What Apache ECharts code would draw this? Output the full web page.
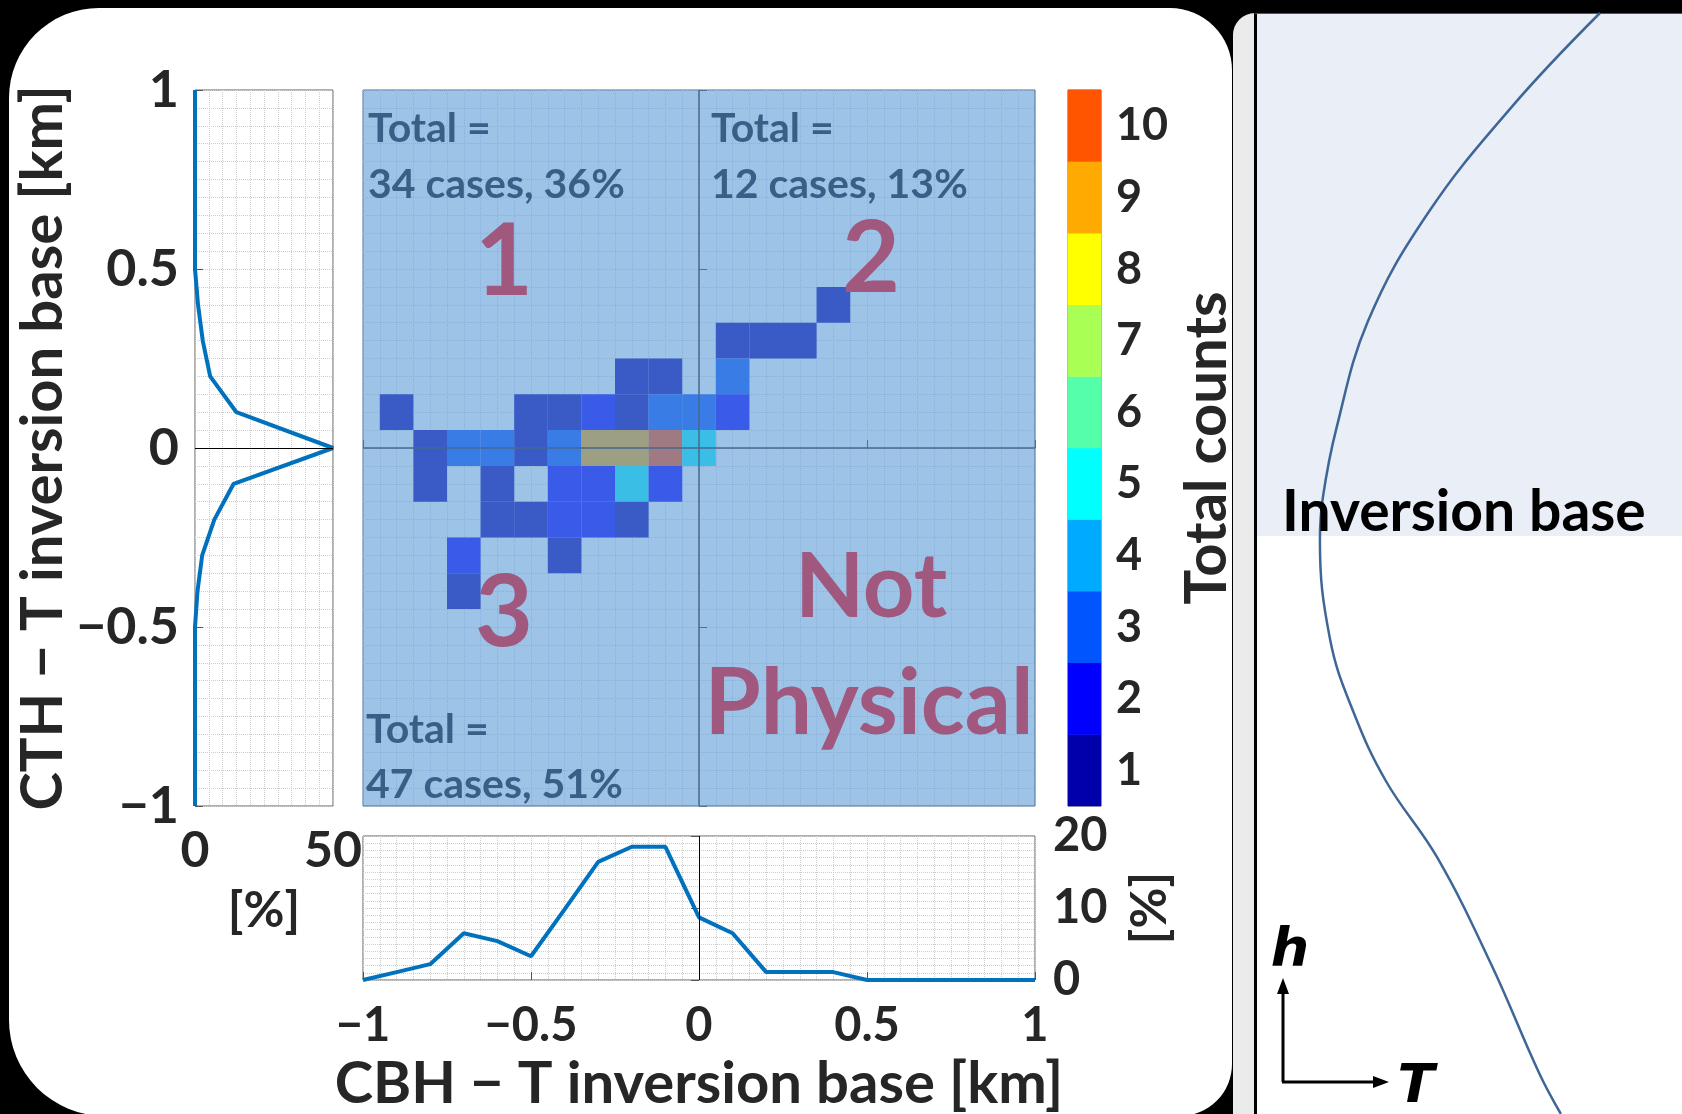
<!DOCTYPE html>
<html>
<head>
<meta charset="utf-8">
<script src="https://cdn.jsdelivr.net/npm/echarts@6/dist/echarts.min.js"></script>
<style>
html,body{margin:0;padding:0;background:#000;}
#c{width:1682px;height:1114px;}
</style>
</head>
<body>
<div id="c"></div>
<script>
// ---------------- DATA ----------------
const binWidth = 0.1;
// 2-D histogram cells (cell centre CBH diff, cell centre CTH diff, count)
const cellX = [0.4, 0.1, 0.2, 0.3, -0.2, -0.1, 0.1,
  -0.9, -0.5, -0.4, -0.3, -0.2, -0.1, 0.0, 0.1,
  -0.8, -0.7, -0.6, -0.5, -0.4, -0.3, -0.2, -0.1, 0.0,
  -0.8, -0.6, -0.4, -0.3, -0.2, -0.1,
  -0.6, -0.5, -0.4, -0.3, -0.2,
  -0.7, -0.4,
  -0.7];
const cellY = [0.4, 0.3, 0.3, 0.3, 0.2, 0.2, 0.2,
  0.1, 0.1, 0.1, 0.1, 0.1, 0.1, 0.1, 0.1,
  0, 0, 0, 0, 0, 0, 0, 0, 0,
  -0.1, -0.1, -0.1, -0.1, -0.1, -0.1,
  -0.2, -0.2, -0.2, -0.2, -0.2,
  -0.3, -0.3,
  -0.4];
const cellCount = [1, 1, 1, 1, 1, 1, 3,
  1, 1, 1, 2, 1, 3, 3, 2,
  1, 3, 3, 1, 3, 9, 9, 12, 5,
  1, 1, 2, 2, 5, 2,
  1, 1, 2, 2, 1,
  2, 1,
  1];

// Side histogram: CTH - T inversion base [km] vs [%]
const cthLevels = [1.0, 0.9, 0.8, 0.7, 0.6, 0.5, 0.4, 0.3, 0.2, 0.1, 0.0, -0.1, -0.2, -0.3, -0.4, -0.5, -0.6, -0.7, -0.8, -0.9, -1.0];
const cthPercent = [0, 0, 0, 0, 0, 0, 1.1, 2.8, 5.5, 15, 50, 14, 7, 2.6, 0.9, 0, 0, 0, 0, 0, 0];

// Bottom histogram: CBH - T inversion base [km] vs [%]
const cbhLevels = [-1.0, -0.9, -0.8, -0.7, -0.6, -0.5, -0.4, -0.3, -0.2, -0.1, 0.0, 0.1, 0.2, 0.3, 0.4, 0.5, 0.6, 0.7, 0.8, 0.9, 1.0];
const cbhPercent = [0, 1.1, 2.2, 6.5, 5.4, 3.3, 9.8, 16.4, 18.5, 18.5, 8.7, 6.5, 1.1, 1.1, 1.1, 0, 0, 0, 0, 0, 0];

// Colour bar levels
const colorLevels = [1, 2, 3, 4, 5, 6, 7, 8, 9, 10];
const colorLabels = ['1', '2', '3', '4', '5', '6', '7', '8', '9', '10'];

// Schematic temperature profile (arbitrary units)
const profileT = [80.7, 60.0, 40.0, 26.1, 18.7, 15.5, 14.8, 17.2, 22.6, 30.4, 42.4, 55.1, 66.4, 71.5];
const profileH = [100, 91.5, 81.7, 72.0, 62.3, 56.0, 52.1, 43.1, 36.6, 30.2, 23.3, 13.6, 3.7, 0];
const inversionBaseH = 52.5;

// Annotation texts
const quadrantTotals = ['Total =', '34 cases, 36%', '12 cases, 13%', '47 cases, 51%'];
const regionLabels = ['1', '2', '3', 'Not', 'Physical'];

// ---------------- STYLE ----------------
const jetColors = ['#0000aa', '#0000ff', '#0055ff', '#00aaff', '#00ffff', '#55ffaa', '#aaff55', '#ffff00', '#ffaa00', '#ff5500'];
// same colours seen through the translucent blue box
const veiledColors = ['#3a5bc6', '#3a5be8', '#3a7ce6', '#3a9de6', '#3abee6', '#5bbec8', '#7cbea7', '#9dbe86', '#9d9f82', '#9f7a82'];
const TXT = '#262626';
const FONT = 'Lato';
const minusFmt = v => (v < 0 ? '\u2212' + String(+(-v).toFixed(2)) : String(+v.toFixed(2)));

const chart = echarts.init(document.getElementById('c'), null, {renderer: 'canvas'});

const grayDot = {color: '#cdcdcd', type: 'dotted', width: 1};
const blueDot = {color: '#8bb1db', type: 'dotted', width: 1};

function cellRender(params, api) {
  const c = api.coord([api.value(0), api.value(1)]);
  const s = api.size([binWidth, binWidth]);
  return {
    type: 'rect',
    shape: {x: c[0] - s[0] / 2, y: c[1] - s[1] / 2, width: s[0], height: s[1]},
    style: {fill: api.visual('color')}
  };
}

const option = {
  backgroundColor: '#000',
  animation: false,
  textStyle: {fontFamily: FONT},
  grid: [
    {left: 195, top: 90, width: 138, height: 716, show: true, backgroundColor: '#fff', borderColor: '#606060', borderWidth: 1},
    {left: 363, top: 90, width: 672, height: 716, show: true, backgroundColor: '#9dc3e6', borderColor: '#4f7196', borderWidth: 1},
    {left: 363, top: 836, width: 672, height: 148, show: true, backgroundColor: '#fff', borderColor: '#606060', borderWidth: 1},
    {left: 1068, top: 90, width: 33, height: 716, show: true, borderColor: '#6a6a6a', borderWidth: 1},
    {left: 1257, top: 13, width: 425, height: 1101}
  ],
  xAxis: [
    {gridIndex: 0, type: 'value', min: 0, max: 50, interval: 50,
      axisLine: {show: false}, axisTick: {show: false},
      axisLabel: {fontSize: 50, fontWeight: 'bold', color: TXT, margin: 20, showMinLabel: true, showMaxLabel: true},
      splitLine: {show: true, lineStyle: grayDot}, minorTick: {show: false, splitNumber: 10},
      minorSplitLine: {show: true, lineStyle: grayDot},
      name: '[%]', nameLocation: 'middle', nameGap: 80,
      nameTextStyle: {fontSize: 50, fontWeight: 'bold', color: TXT}},
    {gridIndex: 1, type: 'value', min: -1, max: 1, interval: 0.5,
      axisLine: {show: false}, axisLabel: {show: false},
      axisTick: {show: true, inside: true, length: 8, lineStyle: {color: '#4f7196'}},
      splitLine: {show: true, lineStyle: blueDot}, minorTick: {show: false, splitNumber: 10},
      minorSplitLine: {show: true, lineStyle: blueDot}},
    {gridIndex: 2, type: 'value', min: -1, max: 1, interval: 0.5,
      axisLine: {show: false},
      axisTick: {show: true, inside: true, length: 8, lineStyle: {color: '#555'}},
      axisLabel: {fontSize: 47, fontWeight: 'bold', color: TXT, margin: 22, formatter: minusFmt, showMinLabel: true, showMaxLabel: true},
      splitLine: {show: true, lineStyle: grayDot}, minorTick: {show: false, splitNumber: 10},
      minorSplitLine: {show: true, lineStyle: grayDot},
      name: 'CBH \u2212 T inversion base [km]', nameLocation: 'middle', nameGap: 75,
      nameTextStyle: {fontSize: 58, fontWeight: 'bold', color: TXT}},
    {gridIndex: 3, type: 'category', data: [''], show: false},
    {gridIndex: 4, type: 'value', min: 0, max: 100, show: false}
  ],
  yAxis: [
    {gridIndex: 0, type: 'value', min: -1, max: 1, interval: 0.5,
      axisLine: {show: false},
      axisTick: {show: true, inside: true, length: 8, lineStyle: {color: '#555'}},
      axisLabel: {fontSize: 52, fontWeight: 'bold', color: TXT, margin: 16, formatter: minusFmt, showMinLabel: true, showMaxLabel: true},
      splitLine: {show: true, lineStyle: grayDot}, minorTick: {show: false, splitNumber: 10},
      minorSplitLine: {show: true, lineStyle: grayDot},
      name: 'CTH \u2212 T inversion base [km]', nameLocation: 'middle', nameRotate: 90, nameGap: 123,
      nameTextStyle: {fontSize: 58, fontWeight: 'bold', color: TXT}},
    {gridIndex: 1, type: 'value', min: -1, max: 1, interval: 0.5,
      axisLine: {show: false}, axisLabel: {show: false},
      axisTick: {show: true, inside: true, length: 8, lineStyle: {color: '#4f7196'}},
      splitLine: {show: true, lineStyle: blueDot}, minorTick: {show: false, splitNumber: 10},
      minorSplitLine: {show: true, lineStyle: blueDot}},
    {gridIndex: 2, type: 'value', min: 0, max: 20, interval: 10, position: 'right',
      axisLine: {show: false},
      axisTick: {show: true, inside: true, length: 8, lineStyle: {color: '#555'}},
      axisLabel: {fontSize: 47, fontWeight: 'bold', color: TXT, margin: 18, showMinLabel: true, showMaxLabel: true},
      splitLine: {show: true, lineStyle: grayDot}, minorTick: {show: false, splitNumber: 10},
      minorSplitLine: {show: true, lineStyle: grayDot},
      name: '[%]', nameLocation: 'middle', nameRotate: 90, nameGap: 90,
      nameTextStyle: {fontSize: 50, fontWeight: 'bold', color: TXT}},
    {gridIndex: 3, type: 'category', data: colorLabels, position: 'right',
      axisLine: {show: false},
      axisTick: {show: true, inside: true, alignWithLabel: true, length: 7, lineStyle: {color: '#222', width: 1.5}},
      axisLabel: {fontSize: 45, fontWeight: 'bold', color: TXT, margin: 15},
      splitLine: {show: false},
      name: 'Total counts', nameLocation: 'middle', nameRotate: 90, nameGap: 77,
      nameTextStyle: {fontSize: 58, fontWeight: 'bold', color: TXT}},
    {gridIndex: 4, type: 'value', min: 0, max: 100, show: false}
  ],
  visualMap: [
    {type: 'piecewise', show: false, seriesIndex: 1, dimension: 2,
      pieces: colorLevels.map((v, i) => (i === colorLevels.length - 1
        ? {gte: v - 0.5, color: veiledColors[i]}
        : {gte: v - 0.5, lt: v + 0.5, color: veiledColors[i]}))},
    {type: 'piecewise', show: false, seriesIndex: 3, dimension: 2,
      pieces: colorLevels.map((v, i) => ({gte: v - 0.5, lt: v + 0.5, color: jetColors[i]}))}
  ],
  series: [
    {type: 'line', xAxisIndex: 0, yAxisIndex: 0, z: 4, clip: false,
      data: cthLevels.map((y, i) => [cthPercent[i], y]),
      symbol: 'none', lineStyle: {color: '#0072BD', width: 4},
      markLine: {silent: true, symbol: 'none', label: {show: false},
        lineStyle: {color: '#000', width: 1, type: 'solid'}, data: [{yAxis: 0}]}},
    {type: 'custom', xAxisIndex: 1, yAxisIndex: 1, z: 3,
      data: cellX.map((x, i) => [x, cellY[i], cellCount[i]]),
      encode: {x: 0, y: 1},
      renderItem: cellRender,
      markLine: {silent: true, symbol: 'none', label: {show: false},
        lineStyle: {color: '#46698f', width: 1.5, type: 'solid'}, data: [{xAxis: 0}, {yAxis: 0}]}},
    {type: 'line', xAxisIndex: 2, yAxisIndex: 2, z: 4, clip: false,
      data: cbhLevels.map((x, i) => [x, cbhPercent[i]]),
      symbol: 'none', lineStyle: {color: '#0072BD', width: 4},
      markLine: {silent: true, symbol: 'none', label: {show: false},
        lineStyle: {color: '#000', width: 1, type: 'solid'}, data: [{xAxis: 0}]}},
    {type: 'heatmap', xAxisIndex: 3, yAxisIndex: 3,
      data: colorLevels.map((v, i) => [0, i, v])},
    {type: 'line', xAxisIndex: 4, yAxisIndex: 4, z: 3,
      data: profileT.map((t, i) => [t, profileH[i]]),
      smooth: 0.4, symbol: 'none', lineStyle: {color: '#3e6696', width: 2.5},
      markArea: {silent: true, itemStyle: {color: '#e9eef7'},
        data: [[{yAxis: inversionBaseH}, {yAxis: 100}]]}}
  ],
  graphic: {elements: [
    {type: 'rect', z: -10, shape: {x: 9, y: 8, width: 1223, height: 1108, r: [90, 62, 52, 96]}, style: {fill: '#fff'}},
    {type: 'rect', z: -10, shape: {x: 1233, y: 13, width: 449, height: 1101, r: [30, 30, 0, 0]}, style: {fill: '#fff'}},
    {type: 'rect', z: 40, shape: {x: 1233, y: 13, width: 22, height: 1101, r: [28, 0, 0, 0]}, style: {fill: '#ebebeb'}},
    {type: 'line', z: 41, shape: {x1: 1255.5, y1: 13, x2: 1255.5, y2: 1114}, style: {stroke: '#000', lineWidth: 3}},
    {type: 'line', z: 41, shape: {x1: 1255, y1: 13.5, x2: 1682, y2: 13.5}, style: {stroke: '#555', lineWidth: 1}},
    // annotations on the 2-D histogram
    {type: 'text', z: 50, x: 368, y: 129, style: {text: quadrantTotals[0], font: 'bold 41px Lato', fill: '#3a5f87', align: 'left', verticalAlign: 'middle'}},
    {type: 'text', z: 50, x: 368, y: 185, style: {text: quadrantTotals[1], font: 'bold 41px Lato', fill: '#3a5f87', align: 'left', verticalAlign: 'middle'}},
    {type: 'text', z: 50, x: 711, y: 129, style: {text: quadrantTotals[0], font: 'bold 41px Lato', fill: '#3a5f87', align: 'left', verticalAlign: 'middle'}},
    {type: 'text', z: 50, x: 711, y: 185, style: {text: quadrantTotals[2], font: 'bold 41px Lato', fill: '#3a5f87', align: 'left', verticalAlign: 'middle'}},
    {type: 'text', z: 50, x: 366, y: 730, style: {text: quadrantTotals[0], font: 'bold 41px Lato', fill: '#3a5f87', align: 'left', verticalAlign: 'middle'}},
    {type: 'text', z: 50, x: 366, y: 785, style: {text: quadrantTotals[3], font: 'bold 41px Lato', fill: '#3a5f87', align: 'left', verticalAlign: 'middle'}},
    {type: 'text', z: 50, x: 504, y: 263, style: {text: regionLabels[0], font: 'bold 100px Lato', fill: '#a0587e', align: 'center', verticalAlign: 'middle'}},
    {type: 'text', z: 50, x: 871, y: 260, style: {text: regionLabels[1], font: 'bold 100px Lato', fill: '#a0587e', align: 'center', verticalAlign: 'middle'}},
    {type: 'text', z: 50, x: 504, y: 614, style: {text: regionLabels[2], font: 'bold 100px Lato', fill: '#a0587e', align: 'center', verticalAlign: 'middle'}},
    {type: 'text', z: 50, x: 871, y: 588, style: {text: regionLabels[3], font: 'bold 90px Lato', fill: '#a0587e', align: 'center', verticalAlign: 'middle'}},
    {type: 'text', z: 50, x: 869, y: 705, style: {text: regionLabels[4], font: 'bold 91px Lato', fill: '#a0587e', align: 'center', verticalAlign: 'middle'}},
    // schematic panel
    {type: 'text', z: 50, x: 1282, y: 513, style: {text: 'Inversion base', font: 'bold 57px Lato', fill: '#000', align: 'left', verticalAlign: 'middle'}},
    {type: 'line', z: 50, shape: {x1: 1283, y1: 1082, x2: 1283, y2: 992}, style: {stroke: '#000', lineWidth: 3}},
    {type: 'polygon', z: 50, shape: {points: [[1283, 978], [1277, 994], [1289, 994]]}, style: {fill: '#000'}},
    {type: 'line', z: 50, shape: {x1: 1282, y1: 1082, x2: 1374, y2: 1082}, style: {stroke: '#000', lineWidth: 3}},
    {type: 'polygon', z: 50, shape: {points: [[1389, 1082], [1373, 1076], [1373, 1088]]}, style: {fill: '#000'}},
    {type: 'text', z: 50, x: 1290, y: 952, style: {text: 'h', font: 'italic bold 54px "DejaVu Sans"', fill: '#000', align: 'center', verticalAlign: 'middle'}},
    {type: 'text', z: 50, x: 1416, y: 1088, style: {text: 'T', font: 'italic bold 54px "DejaVu Sans"', fill: '#000', align: 'center', verticalAlign: 'middle'}}
  ]}
};

chart.setOption(option);
</script>
</body>
</html>
